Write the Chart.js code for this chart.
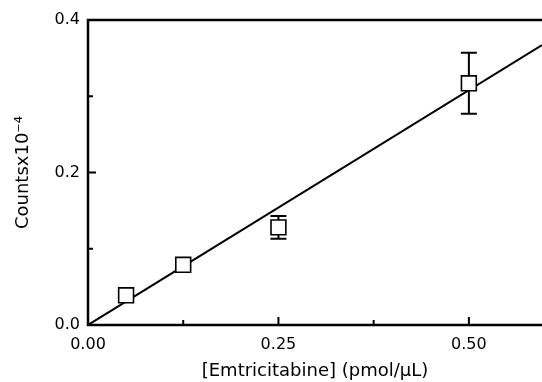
<!DOCTYPE html>
<html lang="en">
<head>
  <meta charset="UTF-8">
  <title>Emtricitabine calibration</title>
  <script src="https://cdn.jsdelivr.net/npm/chart.js"></script>
  <style>
    body { margin: 0; background: #fff; }
    #grafico { display: block; }
  </style>
</head>
<body>
  <canvas id="grafico" width="542" height="382"></canvas>

  <script>
    // Data
    const concentration = [0.05, 0.125, 0.25, 0.5];
    const counts = [0.039, 0.079, 0.128, 0.317];
    const countsError = [0, 0, 0.015, 0.040];
    const fitX = [0, 0.596];
    const fitY = [0, 0.367];
    const xTickValues = [0, 0.25, 0.5];
    const yTickValues = [0, 0.2, 0.4];
    const xMinorTicks = [0.125, 0.375];
    const yMinorTicks = [0.1, 0.3];

    const fuente = 'DejaVu Sans';

    // error bars under the squares
    const barrasError = {
      id: 'barrasError',
      beforeDatasetsDraw(chart) {
        const { ctx, scales: { x, y } } = chart;
        ctx.save();
        ctx.strokeStyle = '#000';
        ctx.lineWidth = 2;
        concentration.forEach((c, i) => {
          const e = countsError[i];
          if (!e) return;
          const px = x.getPixelForValue(c);
          const top = y.getPixelForValue(counts[i] + e);
          const bot = y.getPixelForValue(counts[i] - e);
          ctx.beginPath();
          ctx.moveTo(px, top); ctx.lineTo(px, bot);
          ctx.moveTo(px - 8, top); ctx.lineTo(px + 8, top);
          ctx.moveTo(px - 8, bot); ctx.lineTo(px + 8, bot);
          ctx.stroke();
        });
        ctx.restore();
      }
    };

    // frame and inward ticks
    const marco = {
      id: 'marco',
      afterDatasetsDraw(chart) {
        const { ctx, chartArea: a, scales: { x, y } } = chart;
        ctx.save();
        ctx.strokeStyle = '#000';
        ctx.lineWidth = 2.5;
        ctx.beginPath();
        ctx.moveTo(a.right, a.top);
        ctx.lineTo(a.left, a.top);
        ctx.lineTo(a.left, a.bottom);
        ctx.lineTo(a.right, a.bottom);
        ctx.stroke();

        ctx.lineWidth = 2;
        ctx.beginPath();
        xTickValues.forEach(v => {
          const px = x.getPixelForValue(v);
          ctx.moveTo(px, a.bottom); ctx.lineTo(px, a.bottom - 8);
        });
        xMinorTicks.forEach(v => {
          const px = x.getPixelForValue(v);
          ctx.moveTo(px, a.bottom); ctx.lineTo(px, a.bottom - 5);
        });
        yTickValues.forEach(v => {
          const py = y.getPixelForValue(v);
          ctx.moveTo(a.left, py); ctx.lineTo(a.left + 8, py);
        });
        yMinorTicks.forEach(v => {
          const py = y.getPixelForValue(v);
          ctx.moveTo(a.left, py); ctx.lineTo(a.left + 5, py);
        });
        ctx.stroke();
        ctx.restore();
      }
    };

    const ctx = document.getElementById('grafico').getContext('2d');
    const grafico = new Chart(ctx, {
      type: 'scatter',
      data: {
        datasets: [
          {
            label: 'Counts',
            data: concentration.map((c, i) => ({ x: c, y: counts[i] })),
            pointStyle: 'rect',
            pointRadius: 10.5,
            pointBackgroundColor: '#fff',
            pointBorderColor: '#000',
            pointBorderWidth: 1.6,
            showLine: false
          },
          {
            label: 'Fit',
            type: 'line',
            data: fitX.map((v, i) => ({ x: v, y: fitY[i] })),
            borderColor: '#000',
            borderWidth: 2,
            pointRadius: 0,
            fill: false
          }
        ]
      },
      options: {
        responsive: false,
        animation: false,
        layout: { autoPadding: false, padding: { top: 20, right: 0, left: 0, bottom: 0 } },
        plugins: { legend: { display: false }, tooltip: { enabled: false } },
        scales: {
          x: {
            type: 'linear',
            min: 0,
            max: 0.596,
            afterBuildTicks: s => { s.ticks = xTickValues.map(v => ({ value: v })); },
            afterFit: s => { s.height = 57; s.paddingLeft = 0; s.paddingRight = 0; },
            grid: { display: false, drawTicks: false },
            border: { display: false },
            ticks: {
              color: '#000',
              font: { family: fuente, size: 16 },
              padding: 10,
              maxRotation: 0,
              autoSkip: false,
              callback: v => v.toFixed(2)
            },
            title: {
              display: true,
              text: '[Emtricitabine] (pmol/µL)',
              color: '#000',
              font: { family: fuente, size: 18 },
              padding: 0
            }
          },
          y: {
            type: 'linear',
            min: 0,
            max: 0.4,
            afterBuildTicks: s => { s.ticks = yTickValues.map(v => ({ value: v })); },
            afterFit: s => { s.width = 88; },
            grid: { display: false, drawTicks: false },
            border: { display: false },
            ticks: {
              color: '#000',
              font: { family: fuente, size: 16 },
              padding: 8,
              callback: v => v.toFixed(1)
            },
            title: {
              display: true,
              text: 'Countsx10⁻⁴',
              color: '#000',
              font: { family: fuente, size: 18 },
              padding: { top: 13, bottom: 0 }
            }
          }
        }
      },
      plugins: [barrasError, marco]
    });
  </script>
</body>
</html>
